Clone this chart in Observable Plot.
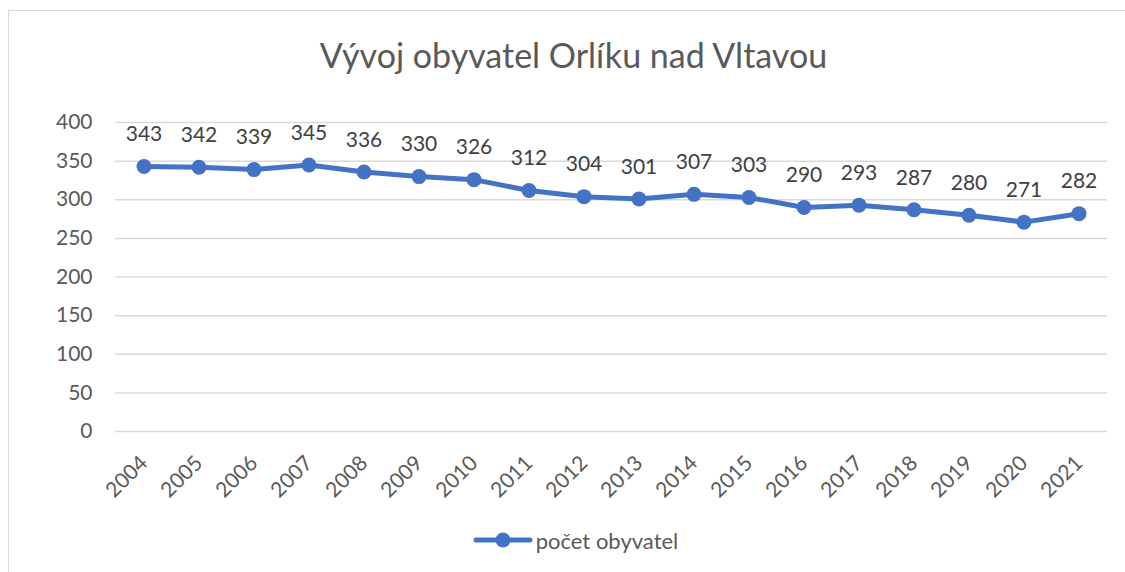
<!DOCTYPE html>
<html><head><meta charset="utf-8">
<script src="https://cdn.jsdelivr.net/npm/d3@7"></script>
<script src="https://cdn.jsdelivr.net/npm/@observablehq/plot@0.6"></script>
<style>
body{margin:0;background:#fff;font-family:Lato,"Open Sans",sans-serif;}
#wrap{position:relative;width:1125px;height:572px;overflow:hidden;}
#frame{position:absolute;left:8px;top:10px;width:1200px;height:700px;border-left:1px solid #d9d9d9;border-top:1px solid #d9d9d9;}
#title{position:absolute;left:11px;top:0;width:1125px;height:90px;line-height:110px;text-align:center;font-size:34px;color:#595959;}
#chart{position:absolute;left:0;top:90px;}
#legend{position:absolute;left:13px;top:526px;width:1125px;height:28px;display:flex;justify-content:center;align-items:center;font-size:22px;color:#595959;}
</style></head>
<body><div id="wrap"><div id="frame"></div><div id="title">Vývoj obyvatel Orlíku nad Vltavou</div><div id="chart"></div>
<div id="legend"><svg width="60" height="20" style="margin-right:3px"><line x1="3" x2="57" y1="10" y2="10" stroke="#4472C4" stroke-width="5" stroke-linecap="round"/><circle cx="30" cy="10" r="7.5" fill="#4472C4"/></svg><span>počet obyvatel</span></div></div>
<script>
const years = ["2004","2005","2006","2007","2008","2009","2010","2011","2012","2013","2014","2015","2016","2017","2018","2019","2020","2021"];
const population = [343,342,339,345,336,330,326,312,304,301,307,303,290,293,287,280,271,282];
const yTicks = [0,50,100,150,200,250,300,350,400];
const data = years.map((y,i)=>({year:y, value:population[i]}));
const chart = Plot.plot({
  width:1125, height:430,
  marginLeft:115, marginRight:18, marginTop:32, marginBottom:89,
  style:{fontFamily:"Lato, 'Open Sans', sans-serif", fontSize:"21px", color:"#595959", background:"transparent"},
  x:{type:"band", domain:years, padding:0, label:null, tickSize:0, tickPadding:28, tickRotate:-45},
  y:{domain:[0,400], ticks:yTicks, label:null, tickSize:0, tickPadding:23},
  marks:[
    Plot.gridY(yTicks,{stroke:"#d9d9d9", strokeOpacity:1, strokeWidth:1.5}),
    Plot.line(data,{x:"year", y:"value", stroke:"#4472C4", strokeWidth:5, curve:"linear"}),
    Plot.dot(data,{x:"year", y:"value", r:7.5, fill:"#4472C4", stroke:"none"}),
    Plot.text(data,{x:"year", y:"value", text:d=>String(d.value), dy:-32, fill:"#404040", fontSize:21})
  ]
});
document.getElementById("chart").appendChild(chart);
</script></body></html>
